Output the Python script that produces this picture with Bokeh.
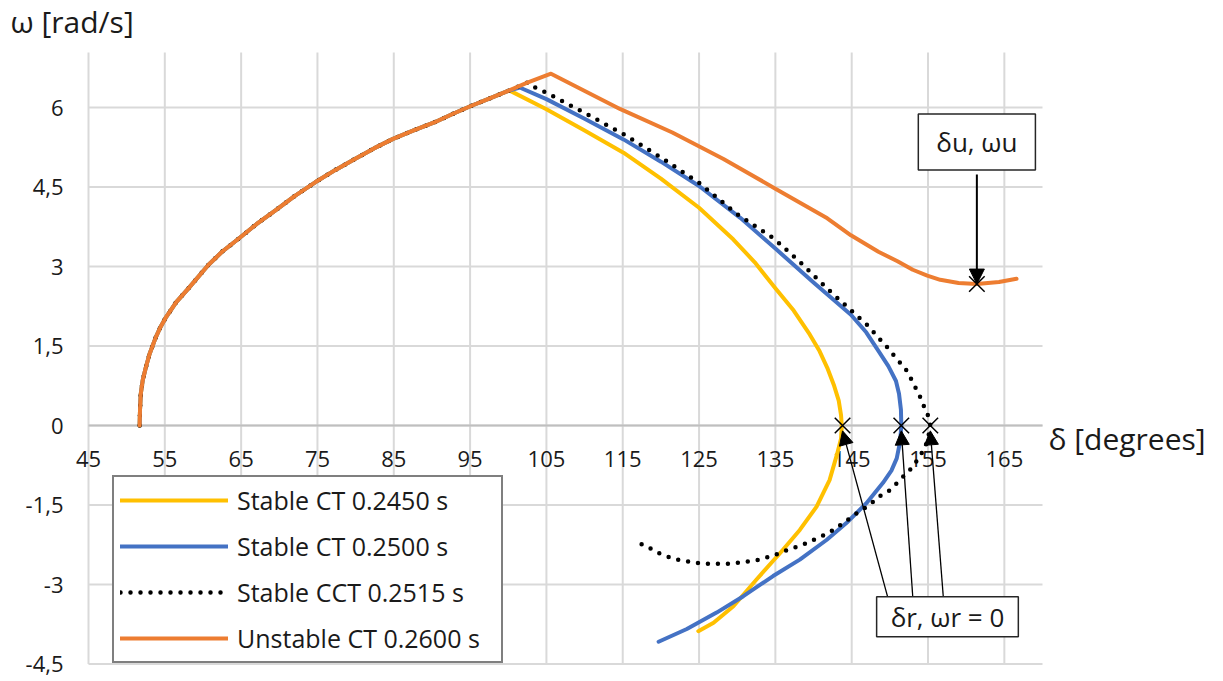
from bokeh.plotting import figure
from bokeh.models import Range1d, Label, Arrow, NormalHead, Legend, LegendItem
from bokeh.core.properties import value
from bokeh.embed import file_html
from bokeh.resources import INLINE

FONT = "Open Sans"

# ---------------- data ----------------
x_ticks = [45, 55, 65, 75, 85, 95, 105, 115, 125, 135, 145, 155, 165]
y_ticks = [-4.5, -3, -1.5, 0, 1.5, 3, 4.5, 6]
x_min, x_max = 45, 170
y_min, y_max = -4.5, 7.04

# fault-on trajectory (shared by all cases until clearing)
fault_delta = [51.7, 51.75, 51.85, 52.1, 52.5, 53.0, 53.8, 54.4, 55.1, 56.5, 58.1, 60.7, 62.5,
               64.7, 67.0, 69.5, 72.0, 74.7, 77.3, 79.9, 82.4, 84.9, 87.6, 90.3, 92.7, 95.1,
               97.5, 99.9, 102.5, 105.6]
fault_omega = [0.0, 0.3, 0.6, 0.85, 1.09, 1.35, 1.66, 1.85, 2.03, 2.33, 2.59, 3.03, 3.28,
               3.53, 3.80, 4.06, 4.33, 4.59, 4.82, 5.03, 5.23, 5.41, 5.57, 5.72, 5.88, 6.03,
               6.17, 6.31, 6.47, 6.64]

# post-fault: Stable CT 0.2450 s
yellow_delta = [100.2, 105, 110, 115.1, 120, 125, 129.5, 132.3, 135, 137.4, 139.5, 140.8, 141.8,
                142.7, 143.3, 143.6, 143.7, 143.6, 143.1, 142.1, 140.4, 138.2, 135.6, 132.5,
                129.5, 126.9, 124.9]
yellow_omega = [6.32, 5.97, 5.57, 5.15, 4.66, 4.11, 3.51, 3.08, 2.59, 2.17, 1.72, 1.40, 1.09,
                0.75, 0.47, 0.2, 0.0, -0.25, -0.53, -1.03, -1.53, -1.97, -2.41, -2.91,
                -3.41, -3.72, -3.88]

# post-fault: Stable CT 0.2500 s
blue_delta = [101.5, 105, 110, 115.1, 120, 125, 130.4, 135, 140, 144.9, 146.9, 148.5, 149.8,
              150.8, 151.2, 151.45, 151.5, 151.35, 150.9, 150.2, 149.1, 146.9, 144.3, 141.7,
              138.2, 134.7, 130.8, 127.3, 123.4, 119.7]
blue_omega = [6.38, 6.16, 5.79, 5.40, 4.98, 4.52, 3.92, 3.34, 2.70, 2.09, 1.76, 1.41, 1.12,
              0.84, 0.6, 0.3, 0.0, -0.3, -0.62, -0.85, -1.08, -1.47, -1.84, -2.16,
              -2.53, -2.84, -3.22, -3.53, -3.84, -4.08]

# post-fault: Stable CCT 0.2515 s
dot_delta = [102.6, 105, 110, 115.1, 120, 125, 129.9, 134.8, 138.2, 142.2, 146.0, 147.2, 148.5,
             149.7, 150.6, 151.5, 152.4, 153.0, 153.7, 154.2, 154.6, 155.1, 155.3, 155.0, 154.6,
             153.9, 152.8, 151.7, 150.9, 150.0, 148.9, 147.8, 146.7, 145.6, 143.9, 142.6, 141.5,
             140.4, 139.1, 138.0, 136.7, 135.6, 134.3, 133.0, 131.7, 130.1, 128.8, 127.5, 126.2,
             124.7, 123.4, 122.1, 120.8, 119.4, 118.4, 117.2]
dot_omega = [6.44, 6.28, 5.90, 5.50, 5.06, 4.58, 4.0, 3.53, 3.09, 2.53, 2.03, 1.875, 1.66,
             1.47, 1.31, 1.16, 1.0, 0.81, 0.625, 0.47, 0.31, 0.16, 0.0, -0.25, -0.41,
             -0.59, -0.81, -0.97, -1.09, -1.22, -1.31, -1.44, -1.56, -1.66, -1.84, -1.97, -2.06,
             -2.13, -2.22, -2.28, -2.34, -2.41, -2.47, -2.53, -2.56, -2.59, -2.61, -2.61, -2.61,
             -2.59, -2.56, -2.53, -2.47, -2.39, -2.30, -2.22]

# post-fault: Unstable CT 0.2600 s
orange_delta = [105.6, 114.7, 121.5, 128.2, 135.0, 141.8, 144.9, 148.5, 151.0, 153.0, 154.9,
                156.6, 159.0, 161.4, 164.3, 166.6]
orange_omega = [6.64, 5.97, 5.53, 5.03, 4.47, 3.91, 3.59, 3.28, 3.10, 2.94, 2.83,
                2.75, 2.69, 2.67, 2.71, 2.77]

# marked points: three return points (omega = 0) and the unstable point
mark_delta = [143.8, 151.5, 155.3, 161.4]
mark_omega = [0.0, 0.0, 0.0, 2.67]

labels = ["Stable CT 0.2450 s", "Stable CT 0.2500 s", "Stable CCT 0.2515 s",
          "Unstable CT 0.2600 s"]


def full(post_d, post_w):
    d0 = post_d[0]
    pre = [(d, w) for d, w in zip(fault_delta, fault_omega) if d < d0]
    return [d for d, _ in pre] + post_d, [w for _, w in pre] + post_w


# ---------------- figure ----------------
W, H = 1223, 681
PL, PR, PT, PB = 88, 1042, 52, 663.5      # plot area in pixels
sx = (PR - PL) / (x_max - x_min)
sy = (PB - PT) / (y_max - y_min)
p = figure(width=W, height=H,
           x_range=Range1d(x_min - PL / sx, x_max + (W - PR) / sx),
           y_range=Range1d(y_min - (H - PB) / sy, y_max + PT / sy),
           x_axis_location=None, y_axis_location=None,
           min_border=0, output_backend="svg", toolbar_location=None)
p.outline_line_color = None
p.background_fill_color = "white"
p.grid.visible = False

GRID = "#d9d9d9"
TXT = "#1a1a1a"

# grid lines (the one at 45 is the vertical axis)
p.segment(x0=x_ticks, x1=x_ticks, y0=[y_min] * len(x_ticks), y1=[y_max] * len(x_ticks),
          line_color=GRID, line_width=2)
p.segment(x0=[x_min] * len(y_ticks), x1=[x_max] * len(y_ticks), y0=y_ticks, y1=y_ticks,
          line_color=GRID, line_width=2)
# horizontal axis at omega = 0
p.segment(x0=[x_min], x1=[x_max], y0=[0], y1=[0], line_color="#bfbfbf", line_width=2)

# tick labels
p.text(x=x_ticks, y=[0] * len(x_ticks), text=[str(t) for t in x_ticks],
       text_align="center", text_baseline="middle", y_offset=33,
       text_font=value(FONT), text_font_size="22px", text_color=TXT)
p.text(x=[x_min] * len(y_ticks), y=y_ticks,
       text=[f"{t:g}".replace(".", ",") for t in y_ticks],
       text_align="right", text_baseline="middle", x_offset=-25,
       text_font=value(FONT), text_font_size="22px", text_color=TXT)

# axis titles
p.text(x=[x_min], y=[y_max], text=["ω [rad/s]"], x_offset=10 - PL, y_offset=-(PT - 21),
       text_align="left", text_baseline="middle",
       text_font=value(FONT), text_font_size="30px", text_color=TXT)
p.text(x=[x_max], y=[0], text=["δ [degrees]"], x_offset=6, y_offset=13,
       text_align="left", text_baseline="middle",
       text_font=value(FONT), text_font_size="30px", text_color=TXT)

yd, yw = full(yellow_delta, yellow_omega)
bd, bw = full(blue_delta, blue_omega)
dd, dw = full(dot_delta, dot_omega)
od, ow = full(orange_delta, orange_omega)

r_y = p.line(yd, yw, line_color="#FFC000", line_width=4, line_join="round", line_cap="round")
r_b = p.line(bd, bw, line_color="#4472C4", line_width=4, line_join="round", line_cap="round")
r_d = p.line(dd, dw, line_color="black", line_width=4.5, line_dash="0 10", line_cap="round")
r_o = p.line(od, ow, line_color="#ED7D31", line_width=4, line_join="round", line_cap="round")

p.scatter(mark_delta, mark_omega, marker="x", size=22, line_color="black", line_width=1.5)

# annotation boxes and arrows
box_u = Label(x=mark_delta[3], y=5.35, text="δu, ωu", text_align="center",
              text_baseline="middle", text_font=FONT, text_font_size="26px", text_color=TXT,
              background_fill_color="white", border_line_color="#262626", border_line_width=1.5,
              padding=dict(left=18, right=18, top=10, bottom=10))
p.add_layout(box_u)
p.add_layout(Arrow(end=NormalHead(size=15, fill_color="black", line_color="black"),
                   x_start=mark_delta[3], y_start=4.74, x_end=mark_delta[3], y_end=mark_omega[3],
                   line_width=2, line_color="black"))

box_r = Label(x=157.55, y=-3.61, text="δr, ωr = 0", text_align="center",
              text_baseline="middle", text_font=FONT, text_font_size="26px", text_color=TXT,
              background_fill_color="white", border_line_color="#262626", border_line_width=1.5,
              padding=dict(left=14, right=14, top=2, bottom=2))
tails = [149.7, 153.0, 157.0]
for tx, hx in zip(tails, mark_delta[:3]):
    p.add_layout(Arrow(end=NormalHead(size=14, fill_color="black", line_color="black"),
                       x_start=tx, y_start=-3.23, x_end=hx, y_end=-0.1,
                       line_width=1.3, line_color="black"))
p.add_layout(box_r)

legend = Legend(items=[LegendItem(label=labels[0], renderers=[r_y]),
                       LegendItem(label=labels[1], renderers=[r_b]),
                       LegendItem(label=labels[2], renderers=[r_d]),
                       LegendItem(label=labels[3], renderers=[r_o])],
                location=(112, H - 663), padding=6, spacing=12, glyph_width=108,
                glyph_height=34, label_height=34, label_width=258,
                label_standoff=9, label_text_font=FONT, label_text_font_size="25px",
                label_text_color=TXT, border_line_color="black", border_line_width=2,
                background_fill_color="white", background_fill_alpha=1, margin=0)
p.add_layout(legend)

open("out.html", "w").write(file_html(p, INLINE))
